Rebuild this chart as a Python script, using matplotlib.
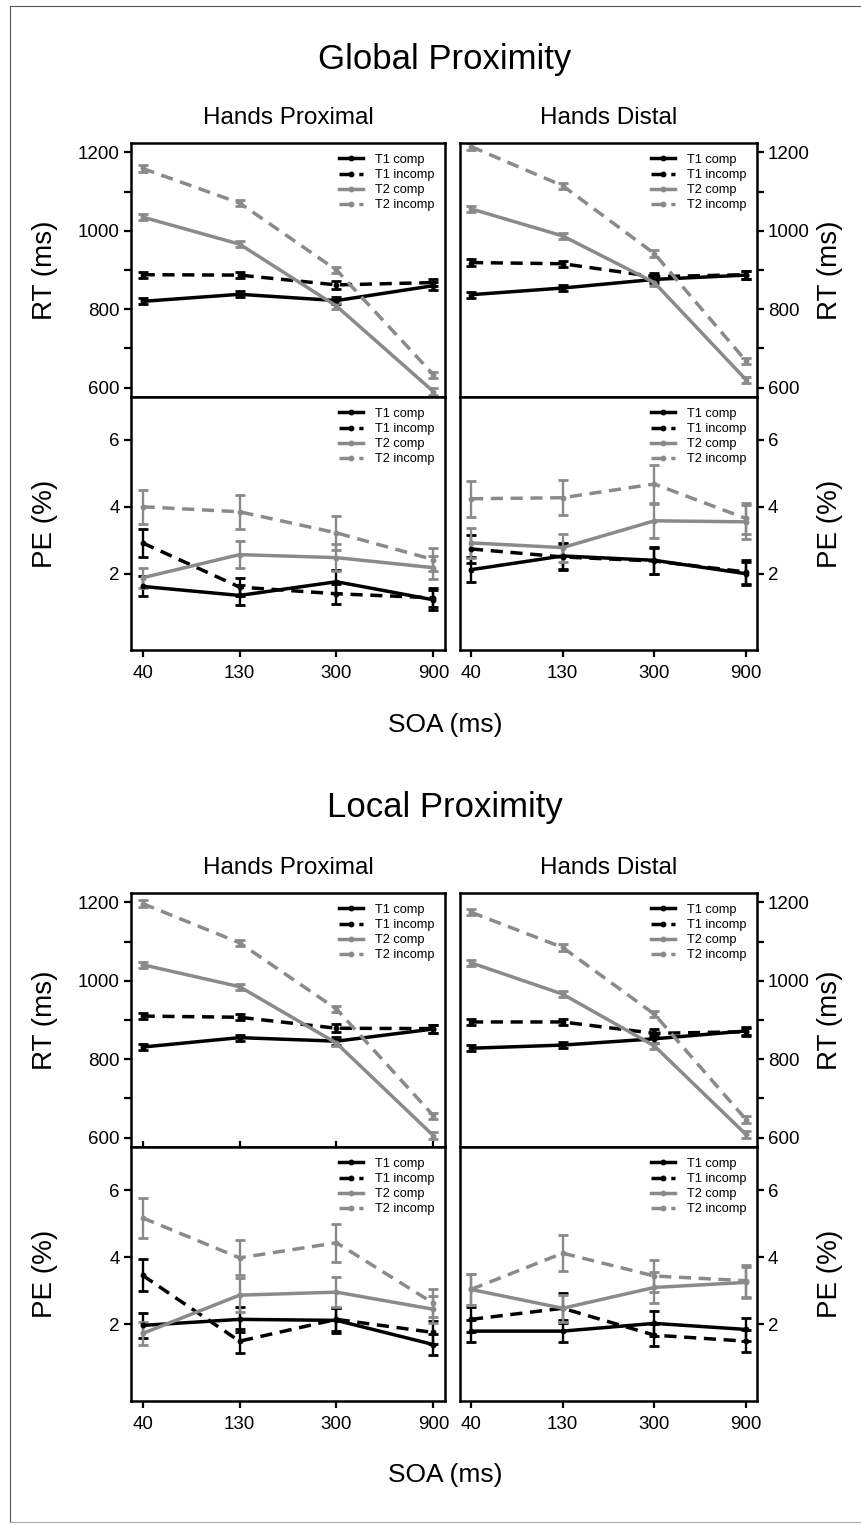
import numpy as np
import matplotlib
matplotlib.use("Agg")
import matplotlib.pyplot as plt
from matplotlib.legend_handler import HandlerLine2D
from matplotlib.lines import Line2D
from matplotlib.ticker import MultipleLocator, FuncFormatter

plt.rcParams["font.family"] = ["Liberation Sans", "DejaVu Sans"]

# ---- data ----
soa_labels = ["40", "130", "300", "900"]
series = ["T1 comp", "T1 incomp", "T2 comp", "T2 incomp"]

# Global proximity, RT (ms)
rt_global_prox = {"T1 comp": [820, 838, 822, 860], "T1 incomp": [888, 887, 862, 868],
                  "T2 comp": [1035, 966, 808, 590], "T2 incomp": [1159, 1071, 900, 633]}
rt_global_dist = {"T1 comp": [837, 854, 876, 887], "T1 incomp": [919, 916, 883, 888],
                  "T2 comp": [1056, 987, 868, 620], "T2 incomp": [1215, 1115, 942, 668]}
# Global proximity, PE (%)
pe_global_prox = {"T1 comp": [1.62, 1.35, 1.76, 1.22], "T1 incomp": [2.92, 1.60, 1.40, 1.28],
                  "T2 comp": [1.88, 2.57, 2.48, 2.18], "T2 incomp": [4.00, 3.85, 3.22, 2.42]}
pe_global_prox_err = {"T1 comp": [0.30, 0.30, 0.35, 0.30], "T1 incomp": [0.42, 0.28, 0.30, 0.28],
                      "T2 comp": [0.30, 0.40, 0.40, 0.35], "T2 incomp": [0.50, 0.50, 0.50, 0.35]}
pe_global_dist = {"T1 comp": [2.12, 2.53, 2.40, 2.00], "T1 incomp": [2.74, 2.50, 2.38, 2.05],
                  "T2 comp": [2.92, 2.78, 3.58, 3.55], "T2 incomp": [4.24, 4.27, 4.68, 3.65]}
pe_global_dist_err = {"T1 comp": [0.38, 0.40, 0.40, 0.35], "T1 incomp": [0.42, 0.40, 0.40, 0.35],
                      "T2 comp": [0.45, 0.42, 0.50, 0.50], "T2 incomp": [0.54, 0.53, 0.57, 0.45]}

# Local proximity, RT (ms)
rt_local_prox = {"T1 comp": [831, 855, 846, 877], "T1 incomp": [910, 907, 879, 878],
                 "T2 comp": [1041, 985, 841, 605], "T2 incomp": [1197, 1097, 928, 656]}
rt_local_dist = {"T1 comp": [828, 836, 852, 872], "T1 incomp": [895, 895, 866, 870],
                 "T2 comp": [1046, 966, 834, 608], "T2 incomp": [1175, 1085, 915, 646]}
# Local proximity, PE (%)
pe_local_prox = {"T1 comp": [1.97, 2.15, 2.12, 1.40], "T1 incomp": [3.46, 1.50, 2.15, 1.76],
                 "T2 comp": [1.73, 2.87, 2.96, 2.45], "T2 incomp": [5.17, 3.98, 4.43, 2.63]}
pe_local_prox_err = {"T1 comp": [0.36, 0.37, 0.37, 0.30], "T1 incomp": [0.48, 0.35, 0.35, 0.35],
                     "T2 comp": [0.33, 0.50, 0.45, 0.40], "T2 incomp": [0.60, 0.52, 0.57, 0.42]}
pe_local_dist = {"T1 comp": [1.80, 1.80, 2.03, 1.85], "T1 incomp": [2.15, 2.48, 1.68, 1.50],
                 "T2 comp": [3.04, 2.48, 3.10, 3.25], "T2 incomp": [3.04, 4.12, 3.44, 3.30]}
pe_local_dist_err = {"T1 comp": [0.33, 0.33, 0.37, 0.33], "T1 incomp": [0.37, 0.45, 0.33, 0.33],
                     "T2 comp": [0.45, 0.40, 0.45, 0.45], "T2 incomp": [0.47, 0.53, 0.48, 0.48]}

rt_err = {"T1 comp": [8, 8, 10, 10], "T1 incomp": [8, 8, 10, 10],
          "T2 comp": [8, 8, 8, 8], "T2 incomp": [8, 8, 8, 8]}

# ---- styling ----
GRAY = "#8a8a8a"
DASH = (0, (3.5, 2.2))
styles = {"T1 comp": ("black", "-"), "T1 incomp": ("black", DASH),
          "T2 comp": (GRAY, "-"), "T2 incomp": (GRAY, DASH)}

W, H = 861, 1525
fig = plt.figure(figsize=(W / 100, H / 100), dpi=100)


def box(x0, y0, x1, y1):
    return [x0 / W, 1 - y1 / H, (x1 - x0) / W, (y1 - y0) / H]


class EndDot(HandlerLine2D):
    # legend sample: short line with the point at its right end
    def get_xdata(self, legend, xdescent, ydescent, width, height, fontsize):
        xdata = np.linspace(-xdescent, -xdescent + width, 2)
        return xdata, [-xdescent + width]


def draw_panel(ax, means, errs, kind, side, xlabels):
    x = np.arange(1, len(soa_labels) + 1)
    for name in series:
        col, ls = styles[name]
        ax.errorbar(x, means[name], yerr=errs[name], color=col, ls=ls, lw=2.5,
                    marker="o", ms=3.2, capsize=3.5, elinewidth=1.7, capthick=2.0)
    ax.set_xlim(0.88, 4.12)
    if kind == "rt":
        ax.set_ylim(576, 1224)
        ax.yaxis.set_major_locator(MultipleLocator(100))
        ax.yaxis.set_major_formatter(FuncFormatter(lambda v, p: f"{int(v)}" if int(v) % 200 == 0 else ""))
    else:
        ax.set_ylim(-0.28, 7.28)
        ax.set_yticks([2, 4, 6])
    ax.set_xticks(x)
    ax.set_xticklabels(soa_labels if xlabels else [])
    for s in ax.spines.values():
        s.set_linewidth(1.8)
    ax.tick_params(axis="both", width=1.6, length=5, labelsize=13.5, pad=3)
    if side == "left":
        ax.yaxis.tick_left()
    else:
        ax.yaxis.tick_right()
    if kind == "rt":
        ax.tick_params(axis="x", bottom=False)
    handles = [Line2D([], [], color=styles[n][0], ls=styles[n][1], lw=2.5, marker="o", ms=3.2)
               for n in series]
    ax.legend(handles, series, loc="upper right", frameon=False, fontsize=9.2,
              handlelength=1.9, handletextpad=0.9, labelspacing=0.25,
              borderaxespad=0.45, numpoints=1, handler_map={Line2D: EndDot()})


cols = {"left": (131, 445), "right": (460, 757)}
sections = [
    dict(title="Global Proximity", ty=60, hy=118, rt=(143, 397), pe=(397, 650), soa_y=725,
         rt_data=(rt_global_prox, rt_global_dist),
         pe_data=((pe_global_prox, pe_global_prox_err), (pe_global_dist, pe_global_dist_err))),
    dict(title="Local Proximity", ty=808, hy=868, rt=(893, 1147), pe=(1147, 1401), soa_y=1475,
         rt_data=(rt_local_prox, rt_local_dist),
         pe_data=((pe_local_prox, pe_local_prox_err), (pe_local_dist, pe_local_dist_err))),
]

for si, sec in enumerate(sections):
    for ci, side in enumerate(["left", "right"]):
        x0, x1 = cols[side]
        ax_rt = fig.add_axes(box(x0, sec["rt"][0], x1, sec["rt"][1]))
        draw_panel(ax_rt, sec["rt_data"][ci], rt_err, "rt", side, False)
        if si == 1 and side == "left":
            ax_rt.tick_params(axis="x", bottom=True, direction="inout", length=9)
        ax_pe = fig.add_axes(box(x0, sec["pe"][0], x1, sec["pe"][1]))
        means, errs = sec["pe_data"][ci]
        draw_panel(ax_pe, means, errs, "pe", side, True)
        ax_pe.tick_params(axis="x", pad=6)
    fig.text(445 / W, 1 - sec["ty"] / H, sec["title"], ha="center", va="center", fontsize=25)
    fig.text(288 / W, 1 - sec["hy"] / H, "Hands Proximal", ha="center", va="center", fontsize=17.5)
    fig.text(609 / W, 1 - sec["hy"] / H, "Hands Distal", ha="center", va="center", fontsize=17.5)
    fig.text(445 / W, 1 - sec["soa_y"] / H, "SOA (ms)", ha="center", va="center", fontsize=19)
    rt_mid = sum(sec["rt"]) / 2
    pe_mid = sum(sec["pe"]) / 2
    for lx in (45, 830):
        fig.text(lx / W, 1 - rt_mid / H, "RT (ms)", rotation=90, ha="center", va="center", fontsize=20)
        fig.text(lx / W, 1 - pe_mid / H, "PE (%)", rotation=90, ha="center", va="center", fontsize=20)

# thin page frame
fig.add_artist(Line2D([10 / W, 10 / W], [1 - 6 / H, 1 - 1522 / H], color="#555555", lw=0.8))
fig.add_artist(Line2D([10 / W, 1.0], [1 - 6 / H, 1 - 6 / H], color="#555555", lw=0.8))
fig.add_artist(Line2D([10 / W, 1.0], [1 - 1522 / H, 1 - 1522 / H], color="#aaaaaa", lw=0.8))

fig.savefig("out.png", dpi=100)
